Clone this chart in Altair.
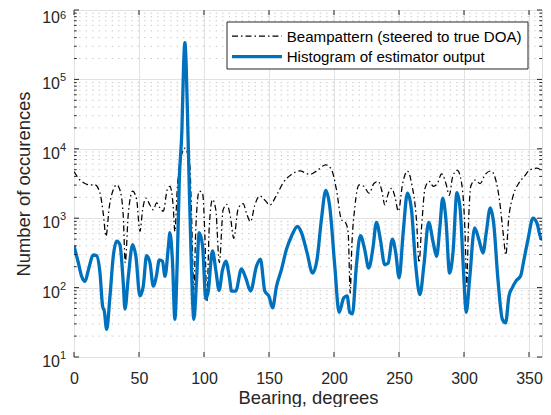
import altair as alt
import pandas as pd

BEAM = "Beampattern (steered to true DOA)"
HIST = "Histogram of estimator output"

beam_bearing = [0, 4.6, 8.5, 12.3, 16.1, 20.0, 22.5, 24.6, 27.2, 30.2, 32.8, 35.3, 37.9, 39.4, 41.8,
                45.1, 48.2, 50.7, 52.8, 55.3, 58.4, 61.0, 63.5, 66.1, 68.7, 71.7, 73.8, 76.3, 77.6,
                79.4, 81.4, 85.3, 89.1, 90.4, 92.2, 93.7, 96.3, 98.9, 100.7, 102.2, 104.0, 106.5,
                109.1, 111.8, 114.7, 117.7, 120.3, 122.9, 126.3, 130.1, 132.7, 135.8, 139.1, 143.0,
                146.8, 150.6, 155.8, 160.9, 167.3, 173.7, 181.4, 186.6, 193.7, 198.1, 201.9, 205.7,
                209.1, 210.9, 212.5, 213.5, 216.1, 219.4, 223.0, 227.1, 230.7, 234.0, 236.6, 239.2,
                241.8, 244.3, 246.9, 249.5, 252.8, 256.4, 259.7, 263.6, 265.4, 267.4, 270.0, 273.3,
                276.4, 279.5, 282.8, 286.1, 288.7, 291.3, 294.9, 298.2, 300.8, 302.1, 303.4, 305.2,
                308.6, 312.4, 316.3, 320.6, 324.0, 327.3, 330.4, 332.2, 334.3, 337.6, 342.0, 346.3,
                351.0, 356.1, 360.0]
beam_count = [4680, 3550, 3160, 3020, 3020, 2290, 1175, 550, 1480, 2570, 3020, 2570, 1070, 229, 1175,
              2450, 1860, 646, 1320, 1950, 1550, 1320, 1660, 1410, 1260, 2570, 2880, 1480, 646,
              2570, 6170, 10200, 5620, 1175, 93, 724, 2450, 2290, 537, 63, 724, 1860,
              1320, 229, 1320, 1580, 1050, 513, 1380, 1620, 1175, 891, 1550, 2090,
              1820, 1550, 2140, 3240, 4270, 4790, 4270, 4790, 5890, 5010, 2570, 955,
              851, 617, 83, 316, 1480, 3020, 2880, 2290, 3160, 3390, 2570, 1550,
              2290, 2690, 2040, 1260, 3160, 4790, 3160, 851, 229, 759, 2690, 3390,
              2880, 3160, 4370, 3160, 2140, 3980, 4900, 3160, 617, 105, 759, 2880,
              3550, 3160, 4270, 4790, 3800, 1820, 550, 295, 955, 2040, 3160, 3980,
              5010, 5250, 4790]

hist_bearing = [0, 3.3, 5.9, 8.5, 11.0, 14.9, 17.4, 20.0, 22.0, 23.3, 25.1, 27.7, 30.2, 32.8, 35.3,
                37.9, 39.2, 41.8, 45.1, 47.6, 50.7, 53.3, 55.8, 58.4, 61.0, 63.5, 65.6, 68.1, 70.0,
                72.5, 73.8, 75.8, 77.6, 79.4, 81.0, 83.0, 84.3, 85.3, 86.3, 87.6, 88.6, 90.4, 92.2,
                94.3, 96.3, 98.9, 101.4, 103.2, 106.5, 109.1, 111.6, 114.2, 116.8, 119.5, 121.2,
                124.4, 128.8, 132.1, 135.8, 140.4, 143.4, 146.8, 150.0, 152.7, 155.8, 159.6, 163.4,
                167.3, 171.9, 175.0, 179.3, 183.5, 186.9, 190.3, 193.7, 196.7, 200.6, 203.9, 207.5,
                210.1, 212.1, 214.2, 217.2, 220.3, 223.6, 226.7, 230.1, 232.6, 235.7, 239.0, 241.6,
                244.9, 247.5, 250.1, 253.2, 256.5, 259.6, 262.9, 266.1, 269.2, 272.8, 276.4, 278.9,
                281.5, 283.6, 286.1, 288.9, 291.5, 294.6, 297.1, 299.7, 301.7, 304.3, 308.2, 311.5,
                314.6, 317.1, 320.2, 322.8, 326.1, 329.5, 332.0, 334.6, 337.2, 340.2, 343.6, 345.9,
                349.2, 353.1, 356.1, 359.5, 360.0]
hist_count = [400, 230, 145, 123, 178, 295, 288, 162, 54, 46, 25, 76, 282, 468, 417,
              117, 49, 145, 417, 282, 76, 105, 288, 229, 105, 151, 251, 240, 145,
              372, 617, 229, 35, 229, 3550, 18600, 158000, 339000, 158000, 18600, 3160, 178, 35,
              132, 617, 398, 69, 87, 339, 178, 91, 178, 240, 141, 89,
              89, 186, 138, 89, 204, 257, 89, 75, 51, 105, 182, 355,
              550, 759, 617, 316, 162, 251, 955, 2510, 1480, 204, 44, 71,
              76, 44, 42, 204, 562, 355, 191, 389, 871, 490, 214, 224,
              501, 316, 138, 617, 2290, 1320, 204, 79, 214, 871, 437, 282,
              759, 1950, 955, 162, 316, 2340, 1320, 162, 44, 132, 724, 490,
              316, 617, 1410, 851, 132, 35, 31, 76, 100, 126, 148, 240,
              490, 1000, 851, 501, 500]

x_ticks = [0, 50, 100, 150, 200, 250, 300, 350]
y_major = [10, 100, 1000, 10000, 100000, 1000000]
y_exponents = ["1", "2", "3", "4", "5", "6"]
y_minor = [m * 10 ** k for k in range(1, 6) for m in range(2, 10)]
legend_labels = [BEAM, HIST]

W, H = 468, 347
FONT = "Liberation Sans"
AX = "#262626"
BLUE = "#0072BD"
DASHDOT = [6, 3, 1.5, 3]

beam_df = pd.DataFrame({"bearing": beam_bearing, "count": beam_count, "series": BEAM})
hist_df = pd.DataFrame({"bearing": hist_bearing, "count": hist_count, "series": HIST})
xt_df = pd.DataFrame({"bearing": x_ticks})
ymaj_df = pd.DataFrame({"count": y_major, "exp": y_exponents})
ymin_df = pd.DataFrame({"count": y_minor})
leg1_df = pd.DataFrame({"label": [legend_labels[0]]})
leg2_df = pd.DataFrame({"label": [legend_labels[1]]})

x_scale = alt.Scale(domain=[0, 360], nice=False, zero=False)
y_scale = alt.Scale(type="log", domain=[10, 1000000], nice=False)

x_axis = alt.Axis(values=x_ticks, grid=True, ticks=False, domain=False, labelFontSize=16,
                  labelPadding=13, labelFlush=False, labelColor=AX, labelFont=FONT,
                  title="Bearing, degrees", titleFontSize=18.4, titleFontWeight="normal",
                  titleFont=FONT, titleColor=AX, titleY=46, titleBaseline="alphabetic",
                  gridColor="#e2e2e2", gridWidth=1)
y_axis = alt.Axis(values=y_major, grid=True, ticks=False, domain=False, labels=False,
                  title="Number of occurences", titleFontSize=18.4, titleFontWeight="normal",
                  titleFont=FONT, titleColor=AX, titleX=-44.5, titleY=H / 2, titleAngle=270,
                  titleBaseline="alphabetic", titleAlign="center",
                  gridColor="#e2e2e2", gridWidth=1)

X = alt.X("bearing:Q", scale=x_scale, axis=x_axis)
Y = alt.Y("count:Q", scale=y_scale, axis=y_axis)

minor_grid = alt.Chart(ymin_df).mark_rule(color="#c4c4c4", strokeWidth=1, strokeDash=[1.3, 5.2]).encode(y=Y)

beam = alt.Chart(beam_df).mark_line(interpolate="monotone", clip=True, color="#000000",
                                    strokeWidth=1.25, strokeDash=DASHDOT).encode(x=X, y=Y)
hist = alt.Chart(hist_df).mark_line(interpolate="monotone", clip=True, color=BLUE,
                                    strokeWidth=3.3).encode(x=X, y=Y)

xt_bottom = alt.Chart(xt_df).mark_rule(color=AX, strokeWidth=1).encode(x=X, y=alt.value(H), y2=alt.value(H - 5))
xt_top = alt.Chart(xt_df).mark_rule(color=AX, strokeWidth=1).encode(x=X, y=alt.value(0), y2=alt.value(5))
yt_left = alt.Chart(ymaj_df).mark_rule(color=AX, strokeWidth=1).encode(y=Y, x=alt.value(0), x2=alt.value(5))
yt_right = alt.Chart(ymaj_df).mark_rule(color=AX, strokeWidth=1).encode(y=Y, x=alt.value(W), x2=alt.value(W - 5))
ym_left = alt.Chart(ymin_df).mark_rule(color=AX, strokeWidth=1).encode(y=Y, x=alt.value(0), x2=alt.value(2.7))
ym_right = alt.Chart(ymin_df).mark_rule(color=AX, strokeWidth=1).encode(y=Y, x=alt.value(W), x2=alt.value(W - 2.7))

ylab_base = alt.Chart(ymaj_df).transform_filter("datum.count < 500000").mark_text(
    align="right", baseline="alphabetic", dy=10, fontSize=16, font=FONT, color=AX).encode(
    y=Y, x=alt.value(-14), text=alt.value("10"))
ylab_base_top = alt.Chart(ymaj_df).transform_filter("datum.count > 500000").mark_text(
    align="right", baseline="alphabetic", dy=12.5, fontSize=16, font=FONT, color=AX).encode(
    y=Y, x=alt.value(-14), text=alt.value("10"))
ylab_exp = alt.Chart(ymaj_df).transform_filter("datum.count < 500000").mark_text(
    align="left", baseline="alphabetic", dy=2, fontSize=11, font=FONT, color=AX).encode(
    y=Y, x=alt.value(-14), text="exp:N")
ylab_exp_top = alt.Chart(ymaj_df).transform_filter("datum.count > 500000").mark_text(
    align="left", baseline="alphabetic", dy=8.5, fontSize=11, font=FONT, color=AX).encode(
    y=Y, x=alt.value(-14), text="exp:N")

# legend (drawn with marks, one row of data each)
leg_box = alt.Chart(leg1_df).mark_rect(fill="white", stroke=AX, strokeWidth=1).encode(
    x=alt.value(153), x2=alt.value(454), y=alt.value(12), y2=alt.value(59))
leg_line1 = alt.Chart(leg1_df).mark_rule(color="#000000", strokeWidth=1.25, strokeDash=DASHDOT).encode(
    x=alt.value(158), x2=alt.value(208), y=alt.value(26))
leg_line2 = alt.Chart(leg2_df).mark_rule(color=BLUE, strokeWidth=3.3).encode(
    x=alt.value(158), x2=alt.value(208), y=alt.value(46.7))
leg_text1 = alt.Chart(leg1_df).mark_text(align="left", baseline="middle", fontSize=15.1, font=FONT,
                                         color="#000000").encode(
    x=alt.value(212.7), y=alt.value(26.5), text="label:N")
leg_text2 = alt.Chart(leg2_df).mark_text(align="left", baseline="middle", fontSize=15.1, font=FONT,
                                         color="#000000").encode(
    x=alt.value(212.7), y=alt.value(47.2), text="label:N")

chart = alt.layer(minor_grid, beam, hist, xt_bottom, xt_top, yt_left, yt_right, ym_left, ym_right,
                  ylab_base, ylab_base_top, ylab_exp, ylab_exp_top, leg_box, leg_line1, leg_line2,
                  leg_text1, leg_text2).properties(
    width=W, height=H,
    autosize=alt.AutoSizeParams(type="none"),
    padding={"left": 66, "top": 2, "right": 1, "bottom": 50},
).configure_view(stroke=AX, strokeWidth=1).configure(background="white")

chart.save("out.html", embed_options={"renderer": "svg", "actions": False})
